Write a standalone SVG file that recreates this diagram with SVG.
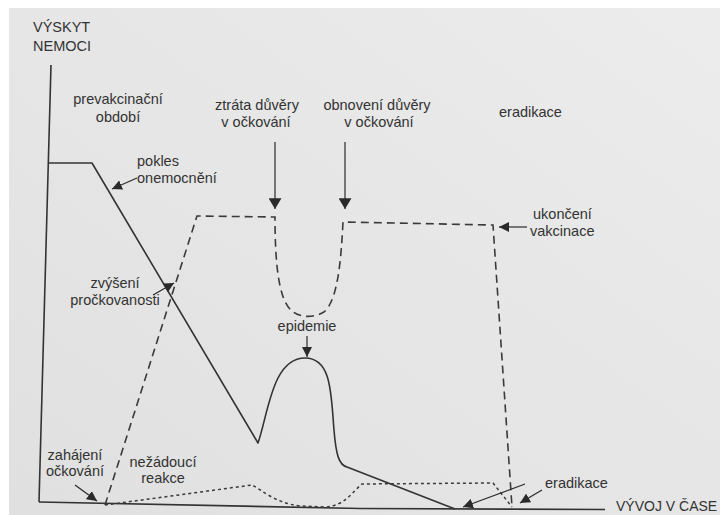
<svg xmlns="http://www.w3.org/2000/svg" width="720" height="515" viewBox="0 0 720 515">
  <defs>
    <marker id="ah" viewBox="0 0 10 10" refX="10" refY="5" markerWidth="10" markerHeight="10" markerUnits="userSpaceOnUse" orient="auto">
      <path d="M0,0 L10,5 L0,10 z" fill="#2a2a2a"/>
    </marker>
    <marker id="ahBig" viewBox="0 0 10 12" refX="10" refY="6" markerWidth="11" markerHeight="13" markerUnits="userSpaceOnUse" orient="auto">
      <path d="M0,0 L10,6 L0,12 z" fill="#2a2a2a"/>
    </marker>
    <linearGradient id="bg" x1="1" y1="0" x2="0" y2="1">
      <stop offset="0" stop-color="#ececec"/>
      <stop offset="1" stop-color="#dfe0df"/>
    </linearGradient>
  </defs>
  <style>
    text { font-family: "Liberation Sans", Arial, sans-serif; font-size: 14.5px; fill: #333; }
    .c { text-anchor: middle; }
    .solid { fill: none; stroke: #333; stroke-width: 1.6; stroke-linejoin: round; }
    .dash { fill: none; stroke: #3a3a3a; stroke-width: 1.6; stroke-dasharray: 8 5; }
    .dot { fill: none; stroke: #3a3a3a; stroke-width: 1.5; stroke-dasharray: 3 3; }
    .arr { fill: none; stroke: #2a2a2a; stroke-width: 1.2; marker-end: url(#ah); }
    .arrB { fill: none; stroke: #2a2a2a; stroke-width: 1.2; marker-end: url(#ahBig); }
  </style>
  <rect x="0" y="0" width="720" height="515" fill="#ffffff"/>
  <rect x="9" y="8" width="711" height="507" fill="url(#bg)"/>

  <g id="axes">
    <line x1="51" y1="65" x2="39" y2="502" class="solid"/>
    <polyline points="39,502 360,508.5 605,509.5" class="solid"/>
  </g>

  <g id="curves">
    <path id="incidence" class="solid" d="M49,163 L92,163 L258,443 C268,415 272,358 305,358 C332,358 331,395 334,430 C336,455 339,465 347,467 L455,509"/>
    <path id="coverage" class="dash" d="M105,505 L197,216 L275,217 C275,260 278,300 292,311 C300,318 314,318 324,312 C338,300 341,260 343,222 L493,225 L512,507"/>
    <path id="adverse" class="dot" d="M105,505 L252,485 C262,490 275,503 300,506 L325,507 C345,506 352,492 362,484 L493,483 L512,507"/>
  </g>

  <g id="connectors">
    <line x1="275" y1="142" x2="275" y2="209" class="arrB"/>
    <line x1="345" y1="142" x2="345" y2="209" class="arrB"/>
    <line x1="137" y1="178" x2="112" y2="189" class="arr"/>
    <line x1="153" y1="295" x2="174" y2="283" class="arr"/>
    <line x1="307" y1="336" x2="307" y2="357" class="arr"/>
    <line x1="527" y1="227" x2="499" y2="227" class="arr"/>
    <line x1="75" y1="485" x2="97" y2="501" class="arr"/>
    <line x1="525" y1="484" x2="463" y2="507" class="arr"/>
    <line x1="542" y1="490" x2="520" y2="503" class="arr"/>
  </g>

  <g id="y-axis-label"><text><tspan x="33" y="32">VÝSKYT</tspan><tspan x="33" y="51">NEMOCI</tspan></text></g>
  <g id="prevakcinacni"><text class="c"><tspan x="118" y="104">prevakcinační</tspan><tspan x="118" y="122">období</tspan></text></g>
  <g id="ztrata"><text class="c"><tspan x="257" y="110">ztráta důvěry</tspan><tspan x="256" y="127">v očkování</tspan></text></g>
  <g id="obnoveni"><text class="c"><tspan x="377" y="110">obnovení důvěry</tspan><tspan x="379" y="127">v očkování</tspan></text></g>
  <g id="eradikace-top"><text x="499" y="117">eradikace</text></g>
  <g id="pokles"><text><tspan x="137" y="166">pokles</tspan><tspan x="137" y="183">onemocnění</tspan></text></g>
  <g id="ukonceni"><text><tspan x="533" y="219">ukončení</tspan><tspan x="530" y="236">vakcinace</tspan></text></g>
  <g id="zvyseni"><text class="c"><tspan x="115" y="288">zvýšení</tspan><tspan x="115" y="305">pročkovanosti</tspan></text></g>
  <g id="epidemie"><text class="c" x="307" y="331">epidemie</text></g>
  <g id="zahajeni"><text class="c"><tspan x="75" y="459.5">zahájení</tspan><tspan x="75" y="476">očkování</tspan></text></g>
  <g id="nezadouci"><text class="c"><tspan x="163" y="466.5">nežádoucí</tspan><tspan x="163" y="483">reakce</tspan></text></g>
  <g id="eradikace-bottom"><text x="545" y="488">eradikace</text></g>
  <g id="x-axis-label"><text x="616" y="511" style="font-size:14px">VÝVOJ V ČASE</text></g>
</svg>
